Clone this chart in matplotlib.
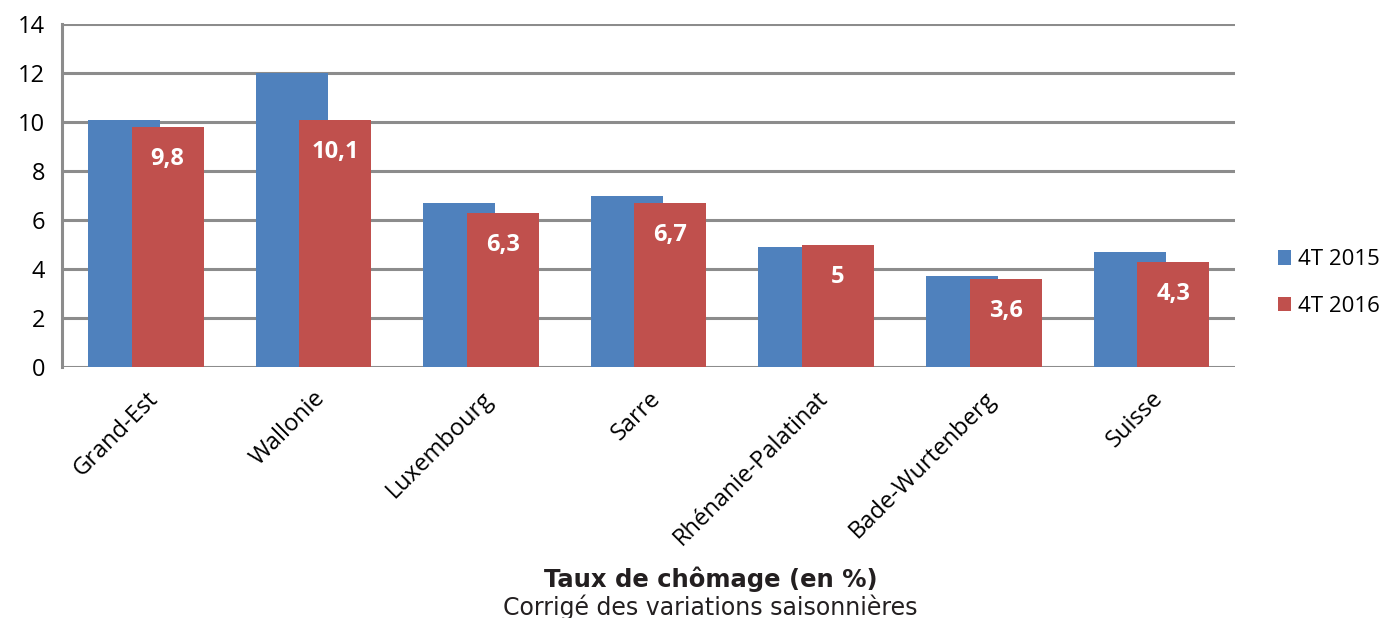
import numpy as np
import matplotlib.pyplot as plt

regions = ['Grand-Est', 'Wallonie', 'Luxembourg', 'Sarre', 'Rhénanie-Palatinat',
           'Bade-Wurtenberg', 'Suisse']
rate_2015 = [10.1, 12.0, 6.7, 7.0, 4.9, 3.7, 4.7]
rate_2016 = [9.8, 10.1, 6.3, 6.7, 5.0, 3.6, 4.3]
labels_2016 = ['9,8', '10,1', '6,3', '6,7', '5', '3,6', '4,3']
series_names = ['4T 2015', '4T 2016']

plt.rcParams['font.family'] = ['Open Sans', 'DejaVu Sans']

fig = plt.figure(figsize=(13.99, 6.18), dpi=100)
ax = fig.add_axes([0.0443, 0.406, 0.8387, 0.555])

x = np.arange(len(regions))
w = 0.43
grid_col = '#8c8c8c'
ax.bar(x - 0.13, rate_2015, w, color='#4F81BD', label=series_names[0], zorder=3)
bars = ax.bar(x + 0.13, rate_2016, w, color='#C0504D', label=series_names[1], zorder=4)

for b, lab in zip(bars, labels_2016):
    ax.annotate(lab, (b.get_x() + b.get_width() / 2, b.get_height()),
                xytext=(0, -23), textcoords='offset points', ha='center', va='center',
                color='white', fontsize=17, fontweight='bold', zorder=5)

ax.set_xlim(-0.5, 6.5)
ax.set_ylim(0, 14)
ax.set_yticks(range(0, 15, 2))
ax.yaxis.grid(True, color=grid_col, linewidth=2.2, zorder=0)
ax.set_axisbelow(True)
for s in ['top', 'right', 'bottom']:
    ax.spines[s].set_visible(False)
ax.spines['left'].set_color(grid_col)
ax.spines['left'].set_linewidth(2.2)
ax.tick_params(axis='y', length=0, pad=12, labelsize=17)
ax.tick_params(axis='x', length=0, pad=14)
ax.set_xticks(x)
ax.set_xticklabels(regions, rotation=45, ha='right', rotation_mode='anchor', fontsize=17)

ax.legend(loc='center left', bbox_to_anchor=(1.036, 0.245), frameon=False, fontsize=16,
          handlelength=0.6, handleheight=0.6, handletextpad=0.3, labelspacing=1.15,
          borderpad=0, borderaxespad=0)

fig.text(0.508, 0.062, 'Taux de chômage (en %)', ha='center', va='center',
         fontsize=17.5, fontweight='bold', color='#231f20', family='DejaVu Sans')
fig.text(0.508, 0.017, 'Corrigé des variations saisonnières', ha='center', va='center',
         fontsize=17, color='#231f20', family='DejaVu Sans')

fig.savefig('out.png', dpi=100)
